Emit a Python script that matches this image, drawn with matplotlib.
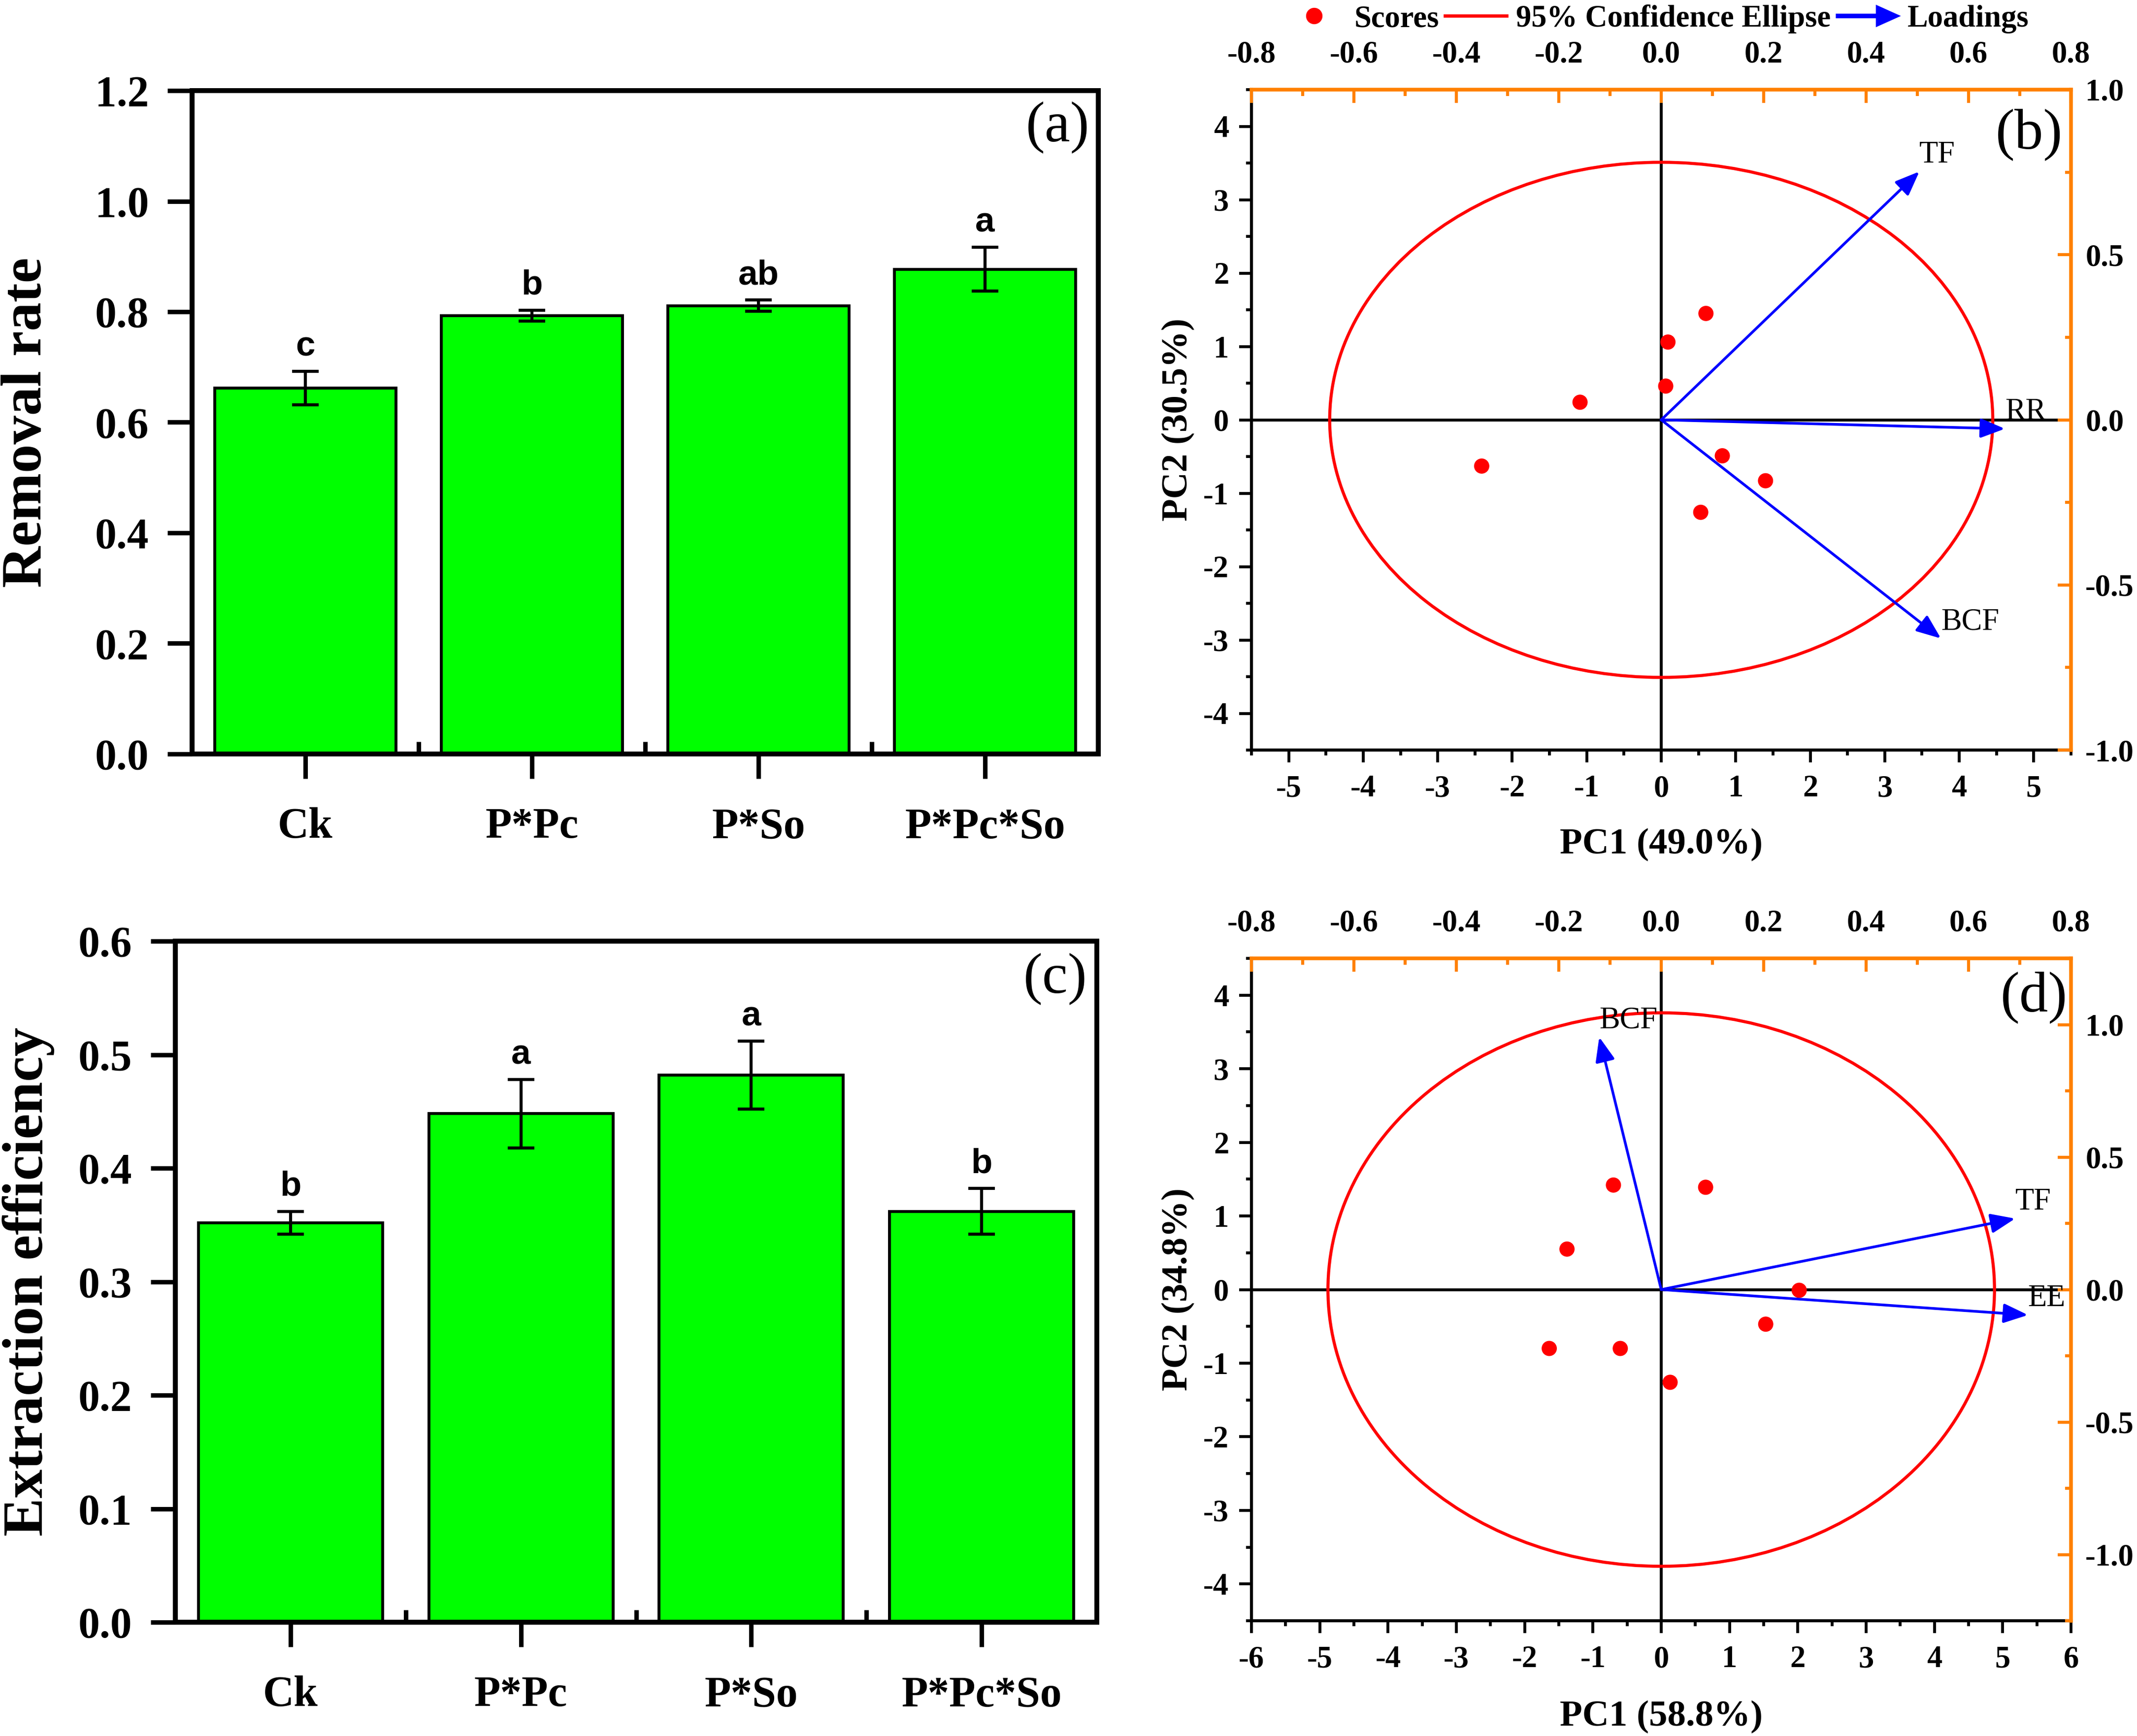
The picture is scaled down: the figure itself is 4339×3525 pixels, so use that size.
import matplotlib
matplotlib.use("Agg")
import matplotlib.pyplot as plt
import matplotlib.patches as mpatches
from matplotlib.lines import Line2D
from matplotlib.legend_handler import HandlerPatch
from matplotlib.ticker import MultipleLocator, FixedLocator
import numpy as np

plt.rcParams['font.family'] = ['Liberation Serif', 'DejaVu Serif']
plt.rcParams['axes.unicode_minus'] = False

# ---------------- data ----------------
categories = ['Ck', 'P*Pc', 'P*So', 'P*Pc*So']
removal = [0.662, 0.793, 0.811, 0.877]
removal_err = [0.030, 0.010, 0.010, 0.040]
removal_sig = ['c', 'b', 'ab', 'a']
extraction = [0.352, 0.448, 0.482, 0.362]
extraction_err = [0.010, 0.030, 0.030, 0.020]
extraction_sig = ['b', 'a', 'a', 'b']

# PCA (b)
b_scores_x = [0.60, 0.09, 0.06, -1.09, -2.41, 0.82, 1.40, 0.53]
b_scores_y = [1.45, 1.06, 0.46, 0.24, -0.63, -0.49, -0.83, -1.26]
b_load_names = ['TF', 'RR', 'BCF']
b_load_x = [0.504, 0.671, 0.546]
b_load_y = [0.752, -0.027, -0.662]
b_ellipse = (4.45, 3.51)
b_xlabel = 'PC1 (49.0%)'
b_ylabel = 'PC2 (30.5%)'

# PCA (d)
d_scores_x = [-0.70, 0.65, -1.38, 2.02, 1.53, -1.64, -0.60, 0.13]
d_scores_y = [1.42, 1.39, 0.55, -0.01, -0.47, -0.80, -0.80, -1.26]
d_load_names = ['BCF', 'TF', 'EE']
d_load_x = [-0.121, 0.691, 0.716]
d_load_y = [0.953, 0.268, -0.096]
d_ellipse = (4.88, 3.76)
d_xlabel = 'PC1 (58.8%)'
d_ylabel = 'PC2 (34.8%)'

top_ticks = [-0.8, -0.6, -0.4, -0.2, 0.0, 0.2, 0.4, 0.6, 0.8]
right_ticks = [-1.0, -0.5, 0.0, 0.5, 1.0]

ORANGE = '#FF8000'
W, H = 4339, 3525
fig = plt.figure(figsize=(W / 300, H / 300), dpi=300)


def rect(l, r, b, t):
    return [l, b, r - l, t - b]


def fmt1(t):
    return '%.1f' % (t + 0.0) if abs(t) > 1e-9 else '0.0'


def bar_panel(pos, values, errs, sigs, ylim, ystep, ylabel, tag, lab_x):
    ax = fig.add_axes(pos)
    x = np.arange(len(categories))
    ax.bar(x, values, width=0.8, color='#00FF00', edgecolor='black', linewidth=1.4, zorder=2)
    ax.errorbar(x, values, yerr=errs, fmt='none', ecolor='black', elinewidth=1.5,
                capsize=6.5, capthick=1.5, zorder=3)
    for xi, v, e, s in zip(x, values, errs, sigs):
        ax.annotate(s, (xi, v + e), xytext=(0, 4), textcoords='offset points',
                    ha='center', va='bottom', fontsize=17, fontweight='bold',
                    family=['Liberation Sans', 'DejaVu Sans'])
    ax.set_xlim(-0.5, len(categories) - 0.5)
    ax.set_ylim(*ylim)
    ax.set_xticks(x)
    ax.set_xticklabels(categories)
    ax.xaxis.set_minor_locator(FixedLocator(x[:-1] + 0.5))
    yt = np.arange(ylim[0], ylim[1] + 1e-9, ystep)
    ax.set_yticks(yt)
    ax.set_yticklabels([fmt1(t) for t in yt])
    ax.tick_params(axis='both', which='major', direction='out', length=12, width=2.2,
                   labelsize=21, top=False, right=False)
    ax.tick_params(axis='x', which='major', pad=14)
    ax.tick_params(axis='y', which='major', pad=9)
    ax.tick_params(axis='x', which='minor', direction='in', length=6, width=2.2)
    for lab in ax.get_xticklabels() + ax.get_yticklabels():
        lab.set_fontweight('bold')
    for sp in ax.spines.values():
        sp.set_linewidth(2.4)
    ax.set_ylabel(ylabel, fontsize=28, fontweight='bold')
    ax.yaxis.set_label_coords(lab_x, 0.5)
    ax.text(0.955, 0.945, tag, transform=ax.transAxes, ha='center', va='center', fontsize=28)
    return ax


bar_panel(rect(390 / W, 2230 / W, 1 - 1531 / H, 1 - 184 / H), removal, removal_err, removal_sig,
          (0, 1.2), 0.2, 'Removal rate', '(a)', -0.153)
bar_panel(rect(356 / W, 2227 / W, 1 - 3294 / H, 1 - 1911 / H), extraction, extraction_err, extraction_sig,
          (0, 0.6), 0.1, 'Extraction efficiency', '(c)', -0.131)


def pca_panel(pos, sx, sy, lnames, lx, ly, ell, xlim, ylim, lxlim, lylim, xlabel, ylabel, tag, tagpos,
              xlab_y):
    ax = fig.add_axes(pos)
    ax.set_xlim(*xlim)
    ax.set_ylim(*ylim)
    ax.axhline(0, xmin=0, xmax=0.985, color='black', lw=1.4, zorder=1)
    ax.axvline(0, ymin=0, ymax=0.982, color='black', lw=1.4, zorder=1)
    ax.add_patch(mpatches.Ellipse((0, 0), 2 * ell[0], 2 * ell[1], fill=False, edgecolor='red',
                                  lw=1.5, zorder=2))
    ax.scatter(sx, sy, s=55, color='red', edgecolors='none', zorder=4)
    ax.xaxis.set_major_locator(MultipleLocator(1))
    ax.xaxis.set_minor_locator(MultipleLocator(0.5))
    ax.yaxis.set_minor_locator(MultipleLocator(0.5))
    ax.set_yticks(np.arange(-4, 5, 1))
    ax.tick_params(axis='both', which='major', direction='out', length=6, width=1.4,
                   labelsize=15, top=False, right=False)
    ax.tick_params(axis='both', which='minor', direction='out', length=2.6, width=1.4,
                   top=False, right=False)
    ax.tick_params(axis='x', which='major', pad=6)
    ax.tick_params(axis='y', which='major', pad=5)
    for lab in ax.get_xticklabels() + ax.get_yticklabels():
        lab.set_fontweight('bold')
    ax.spines['top'].set_visible(False)
    ax.spines['right'].set_visible(False)
    ax.spines['left'].set_linewidth(1.5)
    ax.spines['bottom'].set_linewidth(1.5)
    ax.set_xlabel(xlabel, fontsize=18, fontweight='bold')
    ax.set_ylabel(ylabel, fontsize=18, fontweight='bold')
    ax.xaxis.set_label_coords(0.5, xlab_y)
    ax.yaxis.set_label_coords(-0.069, 0.5)

    al = fig.add_axes(pos)
    al.patch.set_visible(False)
    al.set_xlim(*lxlim)
    al.set_ylim(*lylim)
    al.xaxis.tick_top()
    al.yaxis.tick_right()
    al.set_xticks(top_ticks)
    al.xaxis.set_minor_locator(MultipleLocator(0.1))
    al.set_xticklabels([fmt1(t) for t in top_ticks])
    al.set_yticks(right_ticks)
    al.yaxis.set_minor_locator(MultipleLocator(0.25))
    al.set_yticklabels([fmt1(t) for t in right_ticks])
    al.tick_params(axis='both', which='major', direction='in', length=6.5, width=1.5,
                   color=ORANGE, labelcolor='black', labelsize=15)
    al.tick_params(axis='both', which='minor', direction='in', length=3, width=1.5, color=ORANGE)
    al.tick_params(axis='x', which='major', pad=10)
    al.tick_params(axis='y', which='major', pad=7)
    for lab in al.get_xticklabels() + al.get_yticklabels():
        lab.set_fontweight('bold')
    al.spines['left'].set_visible(False)
    al.spines['bottom'].set_visible(False)
    al.spines['top'].set_color(ORANGE)
    al.spines['right'].set_color(ORANGE)
    al.spines['top'].set_linewidth(1.8)
    al.spines['right'].set_linewidth(1.8)
    for n, x, y in zip(lnames, lx, ly):
        al.annotate('', xy=(x, y), xytext=(0, 0),
                    arrowprops=dict(arrowstyle='-|>,head_length=0.4,head_width=0.16',
                                    mutation_scale=25, color='blue', lw=1.3,
                                    shrinkA=0, shrinkB=0), zorder=5)
        al.annotate(n, (x, y), xytext=(0, 8), textcoords='offset points', ha='left',
                    va='center', fontsize=15)
    al.text(tagpos[0], tagpos[1], tag, transform=al.transAxes, ha='center', va='center', fontsize=28)
    return ax, al


pca_panel(rect(2541 / W, 4205 / W, 1 - 1523 / H, 1 - 182 / H), b_scores_x, b_scores_y,
          b_load_names, b_load_x, b_load_y, b_ellipse, (-5.5, 5.5), (-4.5, 4.5), (-0.8, 0.8), (-1, 1),
          b_xlabel, b_ylabel, '(b)', (0.949, 0.932), -0.118)
pca_panel(rect(2541 / W, 4205 / W, 1 - 3291 / H, 1 - 1946 / H), d_scores_x, d_scores_y,
          d_load_names, d_load_x, d_load_y, d_ellipse, (-6, 6), (-4.5, 4.5), (-0.8, 0.8), (-1.25, 1.25),
          d_xlabel, d_ylabel, '(d)', (0.955, 0.941), -0.12)


# ---------------- legend ----------------
def make_arrow(legend, orig_handle, xdescent, ydescent, width, height, fontsize):
    return mpatches.FancyArrow(-xdescent, height / 2 - ydescent, width, 0, length_includes_head=True,
                               head_width=height * 0.9, head_length=width * 0.35, width=height * 0.12,
                               color='blue')


h_scores = Line2D([], [], marker='o', ls='none', color='red', markersize=7)
h_ell = Line2D([], [], color='red', lw=1.6)
h_arrow = mpatches.FancyArrow(0, 0, 1, 0, color='blue')
fig.legend([h_scores, h_ell, h_arrow], ['Scores', '95% Confidence Ellipse', 'Loadings'],
           handler_map={mpatches.FancyArrow: HandlerPatch(patch_func=make_arrow)},
           loc='upper center', bbox_to_anchor=(0.775, 1.008), ncol=3, frameon=False,
           prop={'family': 'Liberation Serif', 'weight': 'bold', 'size': 15},
           handlelength=2.0, handletextpad=0.3, columnspacing=0.2, borderaxespad=0.2)

fig.savefig('out.png', dpi=300)
